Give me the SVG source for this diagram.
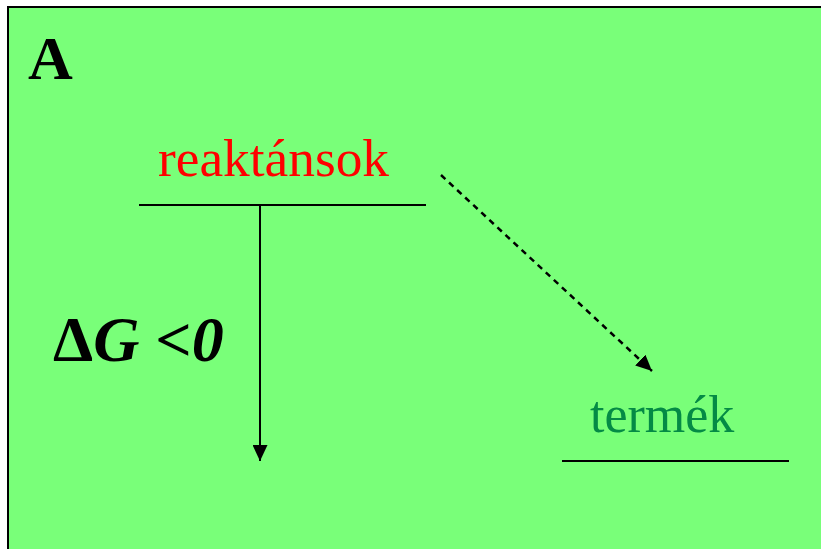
<svg xmlns="http://www.w3.org/2000/svg" width="821" height="549" viewBox="0 0 821 549">
<defs>
<marker id="ah2" markerWidth="16" markerHeight="15" refX="16" refY="7.5" orient="auto" markerUnits="userSpaceOnUse" viewBox="0 0 16 15">
<path d="M0,0 L16,7.5 L0,15 Z" fill="#000"/>
</marker>
</defs>
<style>
text{font-family:'Liberation Serif','DejaVu Serif','Times New Roman',serif}
.lvl{stroke:#000;stroke-width:2;fill:none}
</style>
<rect x="8" y="7" width="830" height="560" fill="#79FF79" stroke="#000" stroke-width="2"/>
<g id="label-A"><text x="28" y="79" font-size="62" font-weight="bold">A</text></g>
<g id="reaktansok">
<text x="158" y="176" font-size="52" fill="#FF0000" textLength="231" lengthAdjust="spacingAndGlyphs">reaktánsok</text>
<line class="lvl" x1="139" y1="205" x2="426" y2="205"/>
</g>
<g id="termek">
<text x="590" y="432" font-size="52" fill="#048A45">termék</text>
<line class="lvl" x1="562" y1="461" x2="789" y2="461"/>
</g>
<g id="deltaG"><text x="53" y="361" font-size="64" font-weight="bold">Δ<tspan font-style="italic">G</tspan> &lt;<tspan font-style="italic">0</tspan></text></g>
<g id="connectors">
<line x1="260" y1="205" x2="260" y2="461" stroke="#000" stroke-width="2" marker-end="url(#ah2)"/>
<line x1="441" y1="175" x2="652" y2="371" stroke="#000" stroke-width="2.5" stroke-dasharray="6,5" marker-end="url(#ah2)"/>
</g>
</svg>
